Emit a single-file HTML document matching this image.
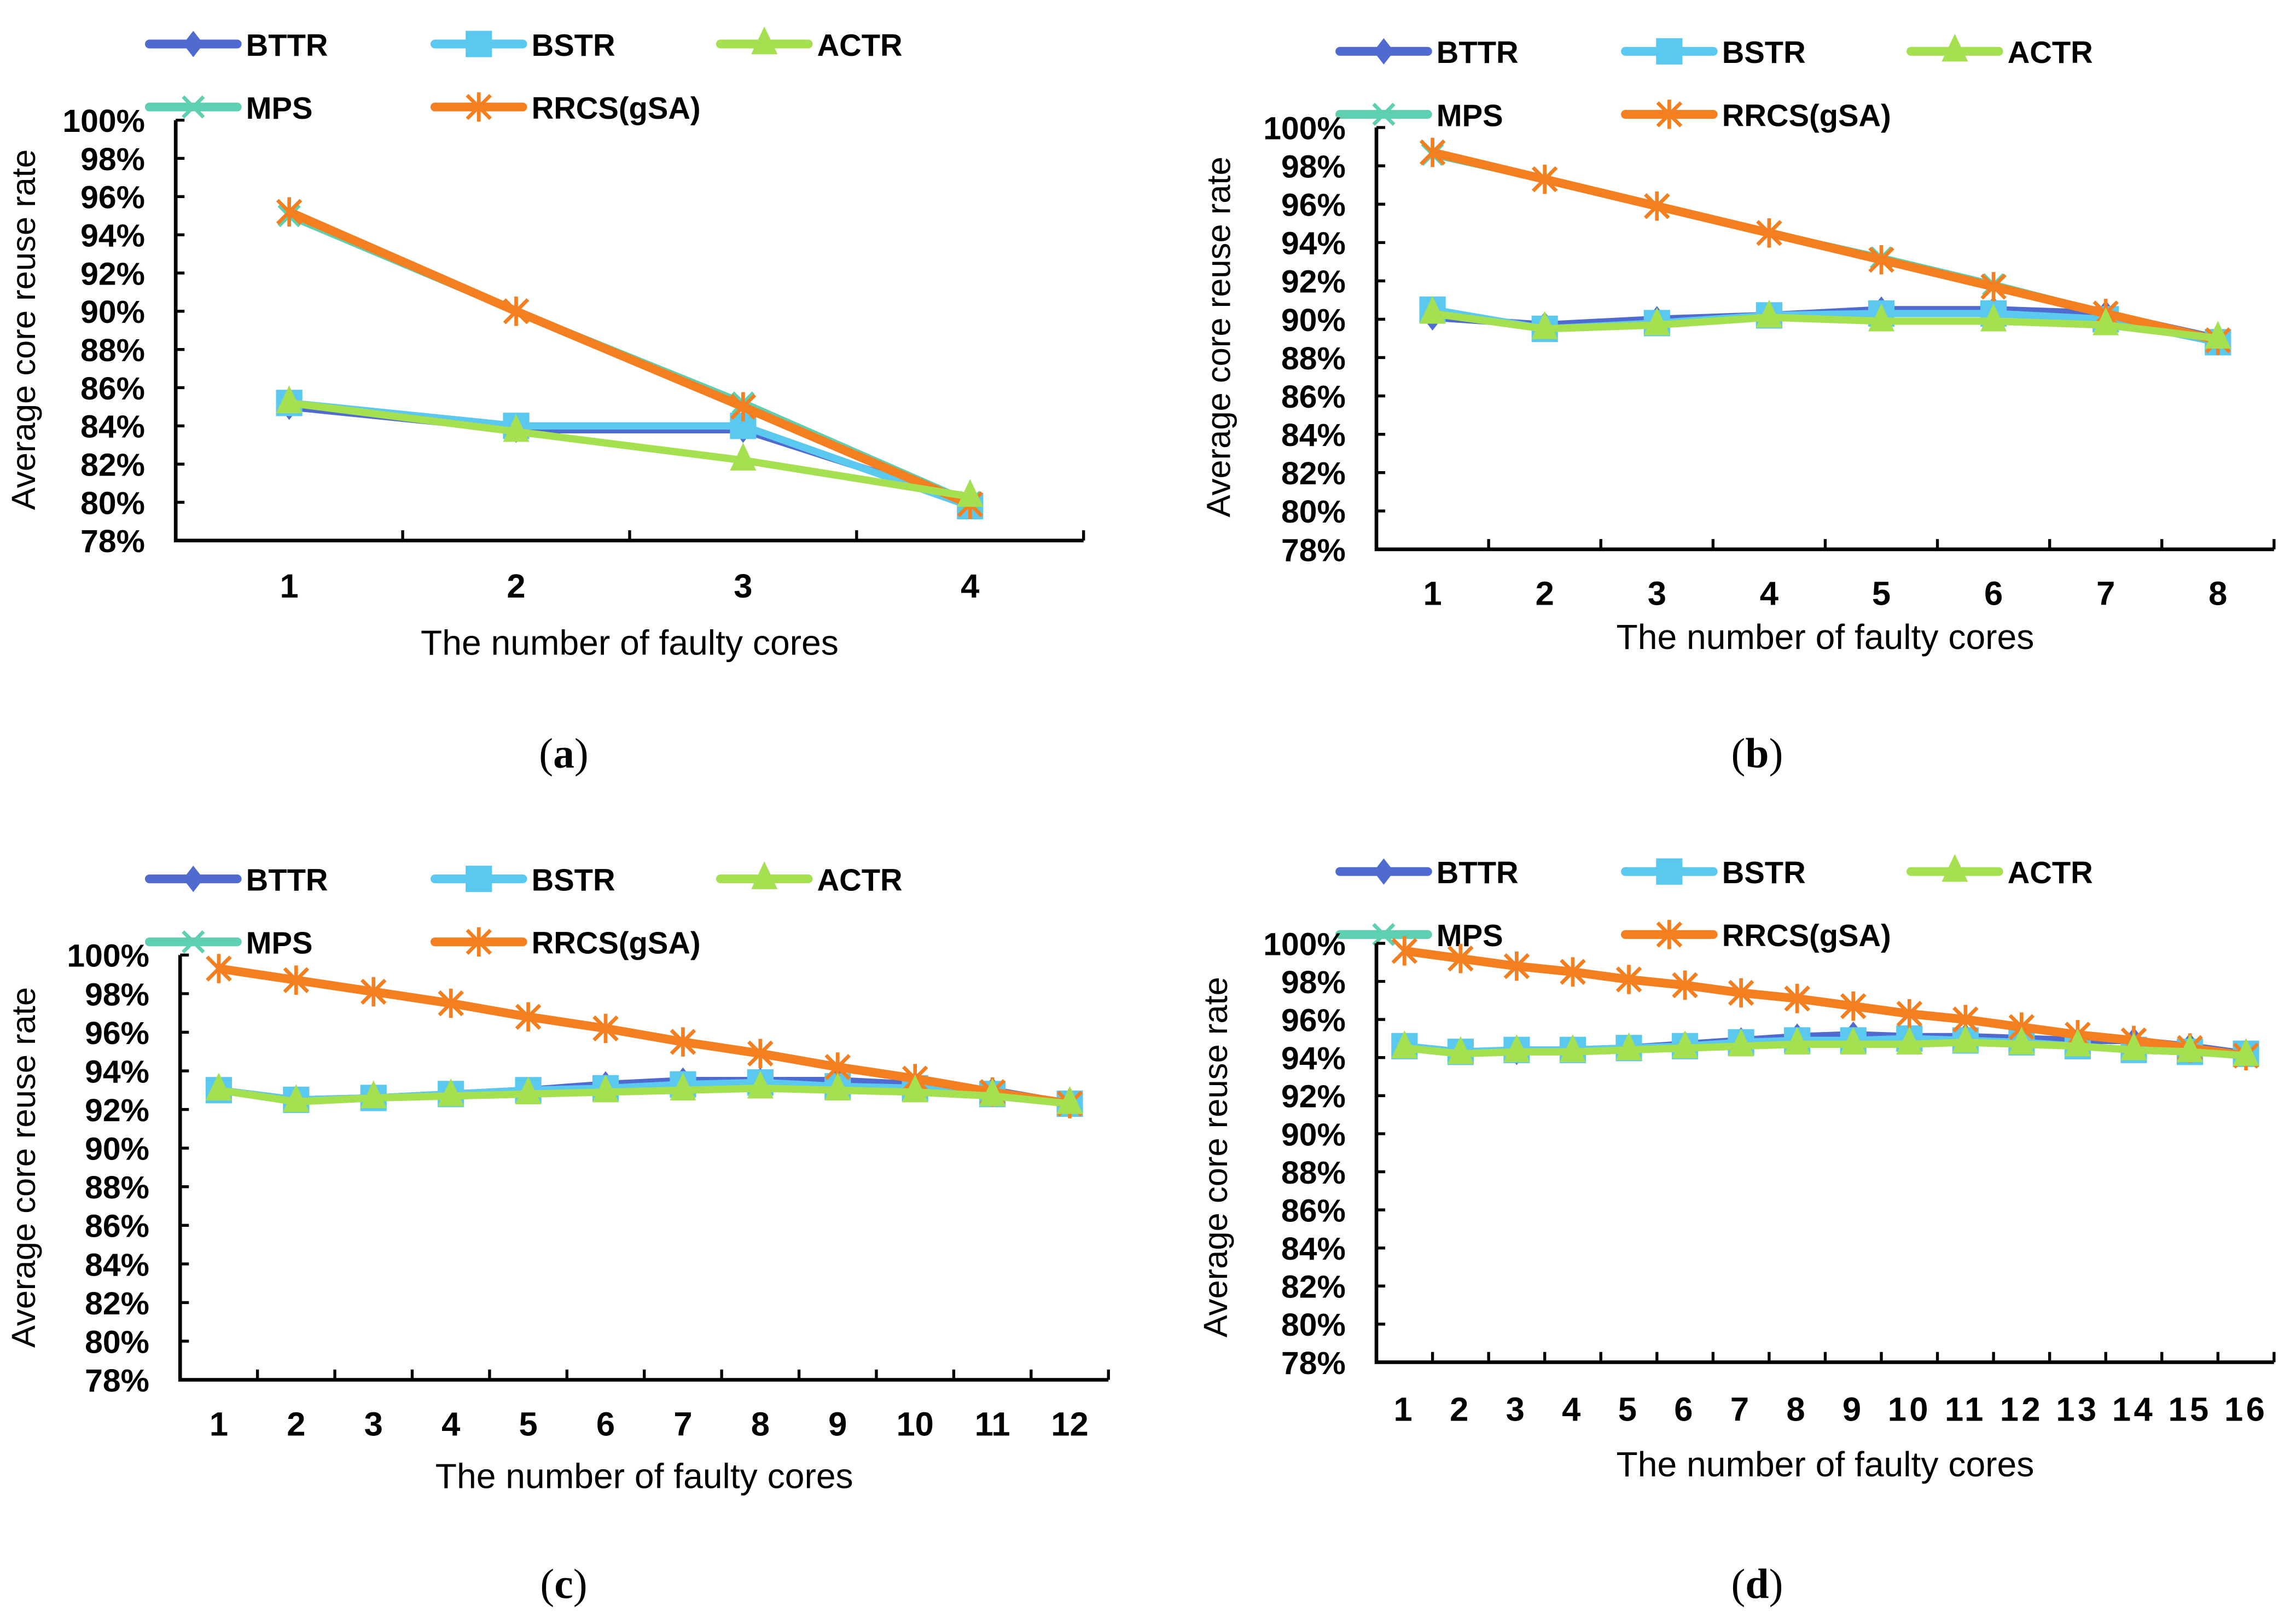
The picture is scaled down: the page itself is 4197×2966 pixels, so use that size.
<!DOCTYPE html>
<html><head><meta charset="utf-8"><style>html,body{margin:0;padding:0;background:#fff}svg{display:block}</style></head>
<body>
<svg id="fig" xmlns="http://www.w3.org/2000/svg" width="4197" height="2966" viewBox="0 0 1568 1108" font-family="Liberation Sans, Arial, sans-serif"></svg>
<script>
const seriesNames = ["BTTR","BSTR","ACTR","MPS","RRCS(gSA)"];
const yTicks = [78,80,82,84,86,88,90,92,94,96,98,100];
const aBTTR=[85,83.8,83.8,80], aBSTR=[85.2,84,84,79.8], aACTR=[85.2,83.7,82.2,80.3], aMPS=[95,90,85.2,80], aRRCS=[95.2,90,85,79.9];
const bBTTR=[90.1,89.7,90,90.2,90.5,90.5,90.3,89], bBSTR=[90.5,89.5,89.8,90.2,90.3,90.3,90,88.8], bACTR=[90.3,89.5,89.7,90.1,89.9,89.9,89.7,89.0], bMPS=[98.6,97.3,95.9,94.5,93.2,91.8,90.3,88.9], bRRCS=[98.7,97.3,95.9,94.5,93.1,91.7,90.3,88.9];
const cBTTR=[93,92.5,92.6,92.8,93,93.3,93.5,93.5,93.5,93.3,93.0,92.3], cBSTR=[93,92.5,92.6,92.8,93,93.1,93.3,93.4,93.2,93.1,92.8,92.3], cACTR=[93,92.4,92.6,92.7,92.8,92.9,93,93.1,93,92.9,92.7,92.3], cMPS=[99.3,98.7,98.1,97.5,96.8,96.2,95.5,94.9,94.2,93.6,92.9,92.3], cRRCS=[99.3,98.7,98.1,97.5,96.8,96.2,95.5,94.9,94.2,93.6,92.9,92.3];
const dBTTR=[94.6,94.3,94.3,94.4,94.5,94.7,94.9,95.1,95.2,95.1,95.1,95.0,94.9,94.9,94.6,94.2], dBSTR=[94.6,94.3,94.4,94.4,94.5,94.6,94.8,94.9,94.9,95.0,94.9,94.8,94.6,94.4,94.3,94.2], dACTR=[94.5,94.2,94.3,94.3,94.4,94.5,94.6,94.7,94.7,94.7,94.8,94.7,94.6,94.4,94.3,94.1], dMPS=[99.6,99.2,98.8,98.5,98.1,97.8,97.4,97.1,96.7,96.3,96.0,95.6,95.2,94.9,94.5,94.1], dRRCS=[99.6,99.2,98.8,98.5,98.1,97.8,97.4,97.1,96.7,96.3,96.0,95.6,95.2,94.9,94.5,94.1];

const colors=["#4f6bcf","#5bc8f0","#a4e04f","#5ecfb0","#f47f20"];
const NS="http://www.w3.org/2000/svg";
const svg=document.getElementById('fig');
function el(tag,attrs,parent){const e=document.createElementNS(NS,tag);for(const k in attrs)e.setAttribute(k,attrs[k]);(parent||svg).appendChild(e);return e;}
function marker(g,type,x,y,c){
  let m;
  if(type===0){m=el('polygon',{points:`${x},${y-9} ${x+7},${y} ${x},${y+9} ${x-7},${y}`,fill:c},g);}
  else if(type===1){m=el('rect',{x:x-9,y:y-9,width:18,height:18,fill:c},g);}
  else if(type===2){m=el('polygon',{points:`${x},${y-12} ${x+9},${y+7} ${x-9},${y+7}`,fill:c},g);}
  else if(type===3){m=el('path',{d:`M${x-7},${y-7}L${x+7},${y+7}M${x+7},${y-7}L${x-7},${y+7}`,stroke:c,'stroke-width':2.5},g);}
  else {m=el('path',{d:`M${x-8},${y-8}L${x+8},${y+8}M${x+8},${y-8}L${x-8},${y+8}M${x},${y-10}L${x},${y+10}`,stroke:c,'stroke-width':2.5},g);}
  
  
}
function panel(p){
  const g=el('g',{});
  
  
  const yS=v=>p.yB-(v-78)/22*(p.yB-p.yT);
  const n=p.data[0].length, cw=(p.xR-p.xL)/n;
  const xS=i=>p.xL+cw*(i+0.5);
  const lx=[p.lx,p.lx+195,p.lx+390,p.lx,p.lx+195], ly=[p.ly,p.ly,p.ly,p.ly+43,p.ly+43];
  for(let s=0;s<5;s++){
    const lg=el('g',{},g);
    
    
    el('line',{x1:lx[s],y1:ly[s],x2:lx[s]+60,y2:ly[s],stroke:colors[s],'stroke-width':6,'stroke-linecap':'round'},lg);
    marker(lg,s,lx[s]+30,ly[s],colors[s]);
    const t=el('text',{x:lx[s]+66,y:ly[s]+8,'font-size':21,'font-weight':'bold',fill:'#000'},lg);t.textContent=seriesNames[s];
  }
  yTicks.forEach(v=>{
    const t=el('text',{x:p.xL-21,y:yS(v)+8,'text-anchor':'end','font-size':22,'font-weight':'bold'},g);t.textContent=v+'%';
    
    if(v>78) el('line',{x1:p.xL,y1:yS(v),x2:p.xL+6,y2:yS(v),stroke:'#000','stroke-width':2},g);
  });
  const ax=el('path',{d:`M${p.xL},${p.yT}L${p.xL},${p.yB}L${p.xR},${p.yB}`,stroke:'#000','stroke-width':2.5,fill:'none'},g);
  
  for(let i=1;i<=n;i++) el('line',{x1:p.xL+cw*i,y1:p.yB,x2:p.xL+cw*i,y2:p.yB-7,stroke:'#000','stroke-width':2},g);
  for(let i=0;i<n;i++){const t=el('text',{x:xS(i),y:p.xlY,'text-anchor':'middle','font-size':23,'font-weight':'bold','letter-spacing':n>12?'2':'0'},g);t.textContent=i+1;
    }
  const xt=el('text',{x:(p.xL+p.xR)/2,y:p.xtY,'text-anchor':'middle','font-size':24},g);xt.textContent='The number of faulty cores';
  
  const yt=el('text',{x:0,y:0,transform:`translate(${p.ytX},${p.ytY}) rotate(-90)`,'text-anchor':'middle','font-size':23},g);yt.textContent='Average core reuse rate';
  
  const cap=el('text',{x:p.capX,y:p.capY,'text-anchor':'middle','font-size':29,'font-family':'Liberation Serif, serif'},g);
  
  cap.appendChild(document.createTextNode('('));
  const b=el('tspan',{'font-weight':'bold'},cap);b.textContent=p.id;
  cap.appendChild(document.createTextNode(')'));
  const order=[0,1,3,4,2];
  order.forEach(s=>{
    const d=p.data[s];
    const sg=el('g',{},g);
    
    
    const pl=el('polyline',{points:d.map((v,i)=>xS(i)+','+yS(v)).join(' '),fill:'none',stroke:colors[s],'stroke-width':s===4?6:5,'stroke-linejoin':'round'},sg);
    
    d.forEach((v,i)=>marker(sg,s,xS(i),yS(v),colors[s]));
  });
}
panel({id:'a',xL:120,xR:740,yT:82,yB:369,lx:102,ly:30,xlY:408,xtY:447,ytX:24,ytY:225,capX:385,capY:524,data:[aBTTR,aBSTR,aACTR,aMPS,aRRCS]});
panel({id:'b',xL:940,xR:1553,yT:87,yB:375,lx:915,ly:35,xlY:413,xtY:443,ytX:840,ytY:230,capX:1200,capY:524,data:[bBTTR,bBSTR,bACTR,bMPS,bRRCS]});
panel({id:'c',xL:123,xR:757,yT:652,yB:942,lx:102,ly:600,xlY:980,xtY:1016,ytX:24,ytY:797,capX:385,capY:1091,data:[cBTTR,cBSTR,cACTR,cMPS,cRRCS]});
panel({id:'d',xL:940,xR:1553,yT:644,yB:930,lx:915,ly:595,xlY:970,xtY:1008,ytX:838,ytY:790,capX:1200,capY:1091,data:[dBTTR,dBSTR,dACTR,dMPS,dRRCS]});
</script>
</body></html>
